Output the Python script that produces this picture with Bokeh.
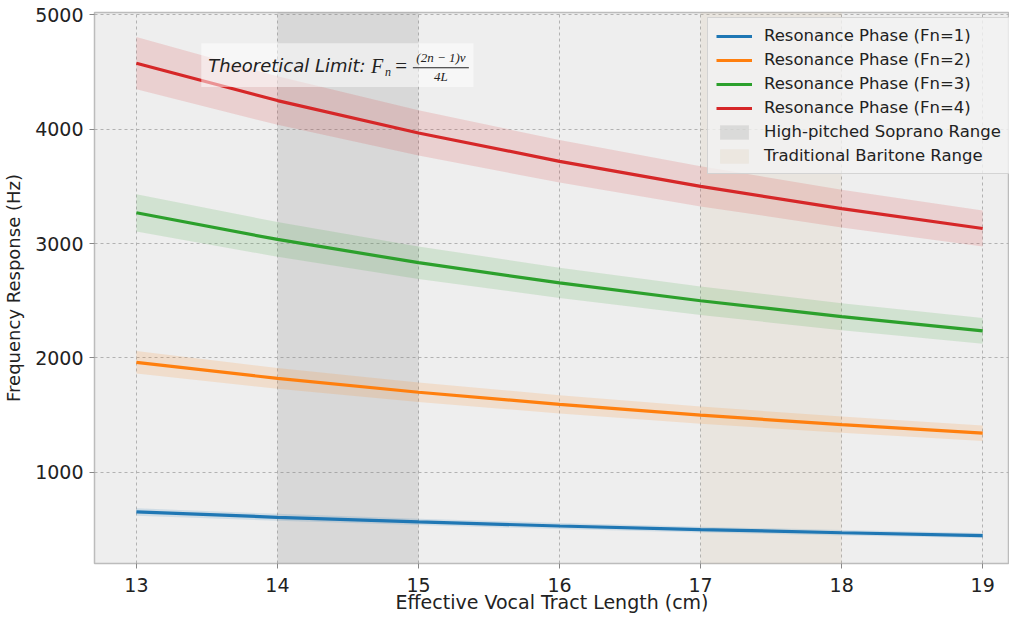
from bokeh.plotting import figure
from bokeh.models import (Range1d, FixedTicker, Legend, LegendItem, BoxAnnotation, Label)
from bokeh.embed import file_html
from bokeh.resources import INLINE

# ---- data ----
length_cm = [13, 14, 15, 16, 17, 18, 19]

f1 = [654, 607, 567, 531, 500, 472, 447]
f2 = [1962, 1821, 1700, 1594, 1500, 1417, 1342]
f3 = [3269, 3036, 2833, 2656, 2500, 2361, 2237]
f4 = [4577, 4250, 3967, 3719, 3500, 3306, 3132]

f1_lo = [621, 577, 539, 504, 475, 448, 425]
f1_hi = [687, 637, 595, 558, 525, 496, 469]
f2_lo = [1864, 1730, 1615, 1514, 1425, 1346, 1275]
f2_hi = [2060, 1912, 1785, 1674, 1575, 1488, 1409]
f3_lo = [3106, 2884, 2691, 2523, 2375, 2243, 2125]
f3_hi = [3432, 3188, 2975, 2789, 2625, 2479, 2349]
f4_lo = [4348, 4038, 3769, 3533, 3325, 3141, 2975]
f4_hi = [4806, 4463, 4165, 3905, 3675, 3471, 3289]

series_labels = ["Resonance Phase (Fn=1)", "Resonance Phase (Fn=2)",
                 "Resonance Phase (Fn=3)", "Resonance Phase (Fn=4)"]
series_colors = ["#1f77b4", "#ff7f0e", "#2ca02c", "#d62728"]

soprano_range = [14, 15]
baritone_range = [17, 18]
range_labels = ["High-pitched Soprano Range", "Traditional Baritone Range"]

x_ticks = [13, 14, 15, 16, 17, 18, 19]
y_ticks = [1000, 2000, 3000, 4000, 5000]

FONT = "DejaVu Sans"

p = figure(width=1009, height=615, output_backend="svg", toolbar_location=None,
           x_range=Range1d(12.703, 19.19), y_range=Range1d(203, 5020),
           min_border_left=93, min_border_right=0, min_border_top=12, min_border_bottom=0)

p.background_fill_color = "#eeeeee"
p.border_fill_color = "white"
p.outline_line_color = "#bcbcbc"
p.outline_line_width = 1.5

# shaded vertical ranges
sop = p.quad(left=[soprano_range[0]], right=[soprano_range[1]], bottom=[-10000], top=[20000],
             fill_color="#808080", fill_alpha=0.2, line_color=None)
bar = p.quad(left=[baritone_range[0]], right=[baritone_range[1]], bottom=[-10000], top=[20000],
             fill_color="#d2b48c", fill_alpha=0.15, line_color=None)

# bands + lines
items = []
for ys, lo, hi, lab, col in zip([f1, f2, f3, f4], [f1_lo, f2_lo, f3_lo, f4_lo],
                                [f1_hi, f2_hi, f3_hi, f4_hi], series_labels, series_colors):
    p.varea(x=length_cm, y1=lo, y2=hi, fill_color=col, fill_alpha=0.15)
    r = p.line(length_cm, ys, line_color=col, line_width=3.2)
    items.append(LegendItem(label=lab, renderers=[r]))
items.append(LegendItem(label=range_labels[0], renderers=[sop]))
items.append(LegendItem(label=range_labels[1], renderers=[bar]))

legend = Legend(items=items, location=(613, 389),
                label_text_font=FONT, label_text_font_size="16.5px", label_text_color="#222222",
                glyph_width=36, glyph_height=18, label_standoff=12, spacing=5,
                padding=8, margin=0,
                background_fill_color="#f2f2f2", background_fill_alpha=0.8,
                border_line_color="#cccccc", border_line_alpha=0.8)
p.add_layout(legend)

# axes
p.xaxis.ticker = FixedTicker(ticks=x_ticks)
p.yaxis.ticker = FixedTicker(ticks=y_ticks)
for ax in (p.xaxis[0], p.yaxis[0]):
    ax.axis_line_color = None
    ax.major_tick_line_color = "#888888"
    ax.major_tick_in = 0
    ax.major_tick_out = 5
    ax.minor_tick_line_color = None
    ax.major_label_text_font = FONT
    ax.major_label_text_font_size = "19px"
    ax.major_label_text_color = "#222222"
    ax.axis_label_text_font = FONT
    ax.axis_label_text_font_style = "normal"
    ax.axis_label_text_color = "#222222"
p.xaxis.axis_label = "Effective Vocal Tract Length (cm)"
p.yaxis.axis_label = "Frequency Response (Hz)"
p.xaxis.axis_label_text_font_size = "19px"
p.yaxis.axis_label_text_font_size = "18px"
p.xaxis.major_label_standoff = 9
p.yaxis.major_label_standoff = 6
p.xaxis.axis_label_standoff = -4
p.yaxis.axis_label_standoff = 8

p.grid.grid_line_color = "#b2b2b2"
p.grid.grid_line_dash = "3 3"
p.grid.grid_line_width = 1

# annotation box with formula
box = BoxAnnotation(left=13.46, right=15.39, bottom=4368, top=4751,
                    fill_color="white", fill_alpha=0.5, line_color=None)
p.add_layout(box)
p.add_layout(Label(x=13.51, y=4559, text="Theoretical Limit:", text_font=FONT,
                   text_font_size="18px", text_font_style="italic",
                   text_color="#222222", text_baseline="middle"))
p.add_layout(Label(x=14.663, y=4551, text="F", text_font="Liberation Serif",
                   text_font_size="20px", text_font_style="italic",
                   text_color="#222222", text_baseline="middle"))
p.add_layout(Label(x=14.762, y=4499, text="n", text_font="Liberation Serif",
                   text_font_size="12px", text_font_style="italic",
                   text_color="#222222", text_baseline="middle"))
p.add_layout(Label(x=14.835, y=4556, text="=", text_font="Liberation Serif",
                   text_font_size="21px", text_color="#222222", text_baseline="middle"))
p.add_layout(Label(x=15.159, y=4629, text="(2n − 1)v", text_font="Liberation Serif",
                   text_font_size="13px", text_font_style="italic",
                   text_color="#222222", text_baseline="middle", text_align="center"))
p.add_layout(Label(x=15.159, y=4464, text="4L", text_font="Liberation Serif",
                   text_font_size="13px", text_font_style="italic",
                   text_color="#222222", text_baseline="middle", text_align="center"))
p.add_layout(BoxAnnotation(left=14.96, right=15.357, bottom=4533, top=4542,
                           fill_color="#222222", fill_alpha=1.0, line_color=None))

open("out.html", "w").write(file_html(p, INLINE))
